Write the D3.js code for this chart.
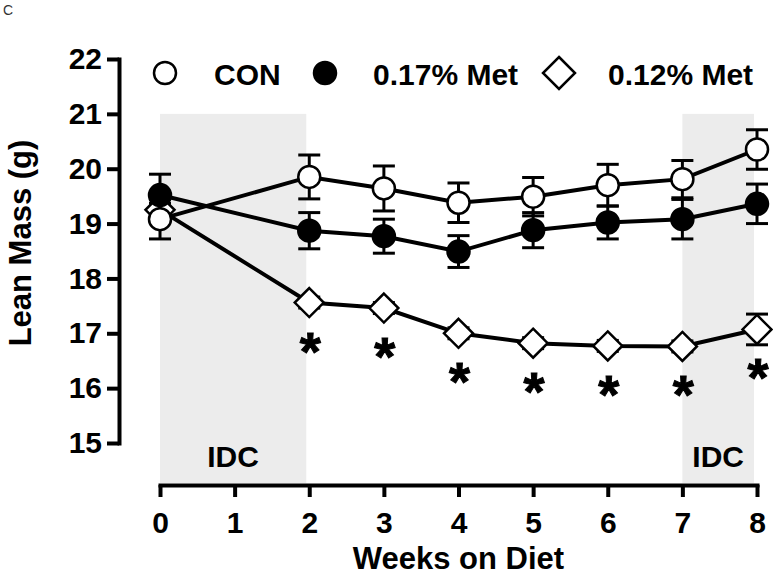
<!DOCTYPE html>
<html>
<head>
<meta charset="utf-8">
<script src="https://cdn.jsdelivr.net/npm/d3@7"></script>
<style>
  html, body { margin: 0; padding: 0; background: #fff; }
  svg { display: block; font-family: Arial, "Liberation Sans", Helvetica, sans-serif; }
</style>
</head>
<body>
<svg id="chart" width="773" height="576"></svg>
<script>
// ---- data ----
const weeks = [0, 2, 3, 4, 5, 6, 7, 8];
const xTicks = [0, 1, 2, 3, 4, 5, 6, 7, 8];
const yTicks = [15, 16, 17, 18, 19, 20, 21, 22];
const conMean = [19.08, 19.85, 19.64, 19.38, 19.49, 19.70, 19.81, 20.35];
const conSem = [0.36, 0.40, 0.41, 0.36, 0.35, 0.38, 0.34, 0.36];
const met17Mean = [19.52, 18.87, 18.77, 18.49, 18.88, 19.02, 19.08, 19.36];
const met17Sem = [0.38, 0.33, 0.31, 0.29, 0.32, 0.30, 0.36, 0.36];
const met12Mean = [19.25, 17.56, 17.46, 17.00, 16.82, 16.77, 16.76, 17.07];
const met12Sem = [0.12, 0.10, 0.10, 0.10, 0.10, 0.10, 0.10, 0.28];
const met12Sig = [false, true, true, true, true, true, true, true];
const seriesNames = ["CON", "0.17% Met", "0.12% Met"];
const idcBands = [[0, 1.96], [7, 7.96]];
const idcLabel = "IDC";
const shadeTop = 21;

// ---- layout ----
const svg = d3.select("#chart");
const x = d3.scaleLinear().domain([0, 8]).range([160, 757]);
const y = d3.scaleLinear().domain([15, 22]).range([443, 59]);
const axisY = 485;   // x-axis baseline position (offset axis)
const axisX = 119;   // y-axis position (offset axis)

// panel letter
svg.append("text").attr("x", 3).attr("y", 15).attr("font-size", 14)
  .attr("fill", "#333").text("C");

// shaded IDC bands
svg.append("g").selectAll("rect").data(idcBands).join("rect")
  .attr("x", d => x(d[0])).attr("width", d => x(d[1]) - x(d[0]))
  .attr("y", y(shadeTop)).attr("height", axisY - 2 - y(shadeTop))
  .attr("fill", "#ececec");
svg.append("g").selectAll("text").data(idcBands).join("text")
  .attr("x", d => (x(d[0]) + x(d[1])) / 2).attr("y", 467)
  .attr("text-anchor", "middle").attr("font-size", 30).attr("font-weight", "bold")
  .text(idcLabel);

// axes
const gx = svg.append("g").attr("transform", `translate(0,${axisY})`)
  .call(d3.axisBottom(x).tickValues(xTicks).tickFormat(d3.format("d"))
    .tickSize(12).tickSizeOuter(0).tickPadding(15));
const gy = svg.append("g").attr("transform", `translate(${axisX},0)`)
  .call(d3.axisLeft(y).tickValues(yTicks).tickFormat(d3.format("d"))
    .tickSize(12).tickSizeOuter(0).tickPadding(5));
[gx, gy].forEach(g => {
  g.select(".domain").attr("stroke", "#000").attr("stroke-width", 4).attr("stroke-linecap", "square");
  g.selectAll(".tick line").attr("stroke", "#000").attr("stroke-width", 4);
  g.selectAll(".tick text").attr("fill", "#000").attr("font-size", 30)
    .attr("font-weight", "bold").attr("font-family", "Arial, 'Liberation Sans', sans-serif");
});

// axis titles
svg.append("text").attr("x", x(4)).attr("y", 569).attr("text-anchor", "middle")
  .attr("font-size", 31).attr("font-weight", "bold").text("Weeks on Diet");
svg.append("text").attr("transform", `translate(31,${(59 + 443) / 2 - 8}) rotate(-90)`)
  .attr("text-anchor", "middle").attr("font-size", 31).attr("font-weight", "bold")
  .text("Lean Mass (g)");

// series
const diamond = r => `M0,${-r}L${r},0L0,${r}L${-r},0Z`;
function drawSeries(mean, sem, kind) {
  const pts = weeks.map((w, i) => ({ w, m: mean[i], s: sem[i] }));
  const g = svg.append("g");
  g.append("path").datum(pts)
    .attr("d", d3.line().x(d => x(d.w)).y(d => y(d.m)))
    .attr("fill", "none").attr("stroke", "#000").attr("stroke-width", 4);
  const eb = g.append("g").attr("stroke", "#000").attr("stroke-width", 3);
  pts.forEach(d => {
    const cx = x(d.w), yt = y(d.m + d.s), yb = y(d.m - d.s);
    eb.append("line").attr("x1", cx).attr("x2", cx).attr("y1", yt).attr("y2", yb);
    eb.append("line").attr("x1", cx - 11).attr("x2", cx + 11).attr("y1", yt).attr("y2", yt);
    eb.append("line").attr("x1", cx - 11).attr("x2", cx + 11).attr("y1", yb).attr("y2", yb);
  });
  const mk = g.append("g").selectAll("path").data(pts).join("path")
    .attr("transform", d => `translate(${x(d.w)},${y(d.m)})`)
    .attr("stroke", "#000").attr("stroke-width", 2.5);
  if (kind === "diamond") mk.attr("d", diamond(14.5)).attr("fill", "#fff");
  else mk.attr("d", d3.symbol().type(d3.symbolCircle).size(Math.PI * 11 * 11))
    .attr("fill", kind === "filled" ? "#000" : "#fff");
}
drawSeries(met12Mean, met12Sem, "diamond");
drawSeries(met17Mean, met17Sem, "filled");
drawSeries(conMean, conSem, "open");

// significance stars
svg.append("g").selectAll("text").data(weeks.map((w, i) => ({ w, m: met12Mean[i], sig: met12Sig[i] })).filter(d => d.sig))
  .join("text")
  .attr("x", d => x(d.w) + 1).attr("y", d => y(d.m) + 37 + 30)
  .attr("text-anchor", "middle").attr("font-size", 54).attr("font-weight", "bold")
  .attr("stroke", "#000").attr("stroke-width", 1)
  .text("*");

// legend
const lg = svg.append("g");
const legItems = [
  { name: seriesNames[0], kind: "open", mx: 165, tx: 214 },
  { name: seriesNames[1], kind: "filled", mx: 325, tx: 373 },
  { name: seriesNames[2], kind: "diamond", mx: 559, tx: 608 }
];
legItems.forEach(it => {
  const p = lg.append("path").attr("transform", `translate(${it.mx},73)`)
    .attr("stroke", "#000").attr("stroke-width", 2.5);
  if (it.kind === "diamond") p.attr("d", diamond(16)).attr("fill", "#fff");
  else p.attr("d", d3.symbol().type(d3.symbolCircle).size(Math.PI * 11 * 11))
    .attr("fill", it.kind === "filled" ? "#000" : "#fff");
  lg.append("text").attr("x", it.tx).attr("y", 85).attr("font-size", 30)
    .attr("font-weight", "bold").text(it.name);
});
</script>
</body>
</html>
